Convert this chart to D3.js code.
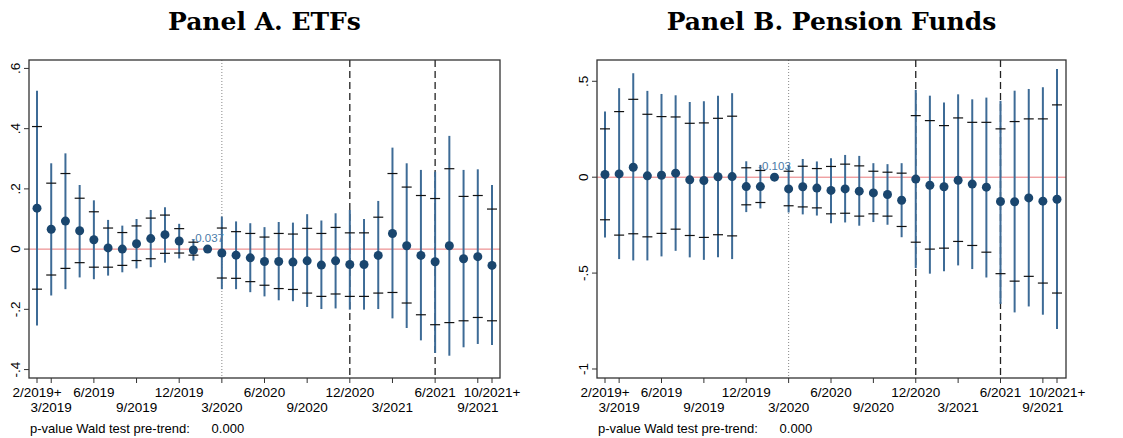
<!DOCTYPE html>
<html><head><meta charset="utf-8">
<script src="https://cdn.jsdelivr.net/npm/d3@7"></script>
<style>body{margin:0;background:#fff}</style>
</head><body>
<svg id="chart" width="1123" height="438"></svg>
<script>
// months 2/2019 .. 10/2021 (33 periods), 2/2020 is the reference period
const tickIdx = [0, 1, 4, 7, 10, 13, 16, 19, 22, 25, 28, 31, 32];
const tickLabels = ["2/2019+", "3/2019", "6/2019", "9/2019", "12/2019", "3/2020", "6/2020", "9/2020", "12/2020", "3/2021", "6/2021", "9/2021", "10/2021+"];

// Panel A. ETFs
const etfCoef = [0.136,0.066,0.093,0.061,0.031,0.004,0,0.018,0.035,0.048,0.027,-0.003,0,-0.013,-0.02,-0.029,-0.041,-0.041,-0.043,-0.039,-0.053,-0.039,-0.051,-0.051,-0.021,0.052,0.011,-0.021,-0.042,0.011,-0.032,-0.025,-0.054];
const etfHi90 = [0.407,0.219,0.251,0.169,0.124,0.07,0.055,0.077,0.103,0.113,0.068,0.023,null,0.07,0.058,0.052,0.04,0.052,0.05,0.069,0.052,0.072,0.054,0.054,0.106,0.251,0.206,0.178,0.168,0.267,0.175,0.178,0.133];
const etfLo90 = [-0.133,-0.086,-0.064,-0.045,-0.06,-0.06,-0.054,-0.038,-0.032,-0.014,-0.013,-0.02,null,-0.096,-0.097,-0.108,-0.12,-0.131,-0.134,-0.146,-0.157,-0.149,-0.157,-0.157,-0.146,-0.144,-0.179,-0.218,-0.251,-0.244,-0.238,-0.227,-0.238];
const etfHi95 = [0.526,0.285,0.318,0.213,0.162,0.097,0.078,0.1,0.13,0.139,0.084,0.031,null,0.108,0.092,0.086,0.073,0.09,0.088,0.116,0.095,0.119,0.13,0.1,0.16,0.337,0.285,0.263,0.257,0.376,0.263,0.265,0.213];
const etfLo95 = [-0.254,-0.154,-0.133,-0.094,-0.1,-0.088,-0.077,-0.064,-0.06,-0.045,-0.031,-0.038,null,-0.133,-0.133,-0.143,-0.157,-0.17,-0.173,-0.192,-0.199,-0.197,-0.201,-0.201,-0.199,-0.23,-0.262,-0.303,-0.345,-0.354,-0.326,-0.315,-0.318];

// Panel B. Pension Funds
const penCoef = [0.014,0.017,0.052,0.007,0.01,0.021,-0.014,-0.017,0.002,0.003,-0.049,-0.049,0,-0.061,-0.05,-0.057,-0.069,-0.061,-0.073,-0.082,-0.09,-0.12,-0.01,-0.042,-0.05,-0.016,-0.036,-0.052,-0.127,-0.128,-0.108,-0.125,-0.115];
const penHi90 = [0.252,0.342,0.406,0.328,0.316,0.314,0.281,0.283,0.307,0.318,0.049,0.035,null,0.031,0.057,0.045,0.056,0.068,0.059,0.031,0.026,0.021,0.321,0.295,0.269,0.309,0.286,0.286,0.252,0.29,0.304,0.304,0.377];
const penLo90 = [-0.222,-0.302,-0.295,-0.311,-0.293,-0.271,-0.304,-0.314,-0.3,-0.306,-0.144,-0.132,null,-0.149,-0.155,-0.16,-0.191,-0.188,-0.203,-0.191,-0.203,-0.257,-0.339,-0.375,-0.37,-0.335,-0.356,-0.391,-0.503,-0.542,-0.517,-0.552,-0.604];
const penHi95 = [0.342,0.464,0.542,0.45,0.434,0.427,0.392,0.396,0.424,0.438,0.083,0.064,null,0.064,0.095,0.082,0.099,0.116,0.111,0.073,0.068,0.073,0.455,0.425,0.39,0.432,0.406,0.415,0.398,0.451,0.46,0.469,0.564];
const penLo95 = [-0.314,-0.427,-0.434,-0.434,-0.413,-0.384,-0.418,-0.431,-0.417,-0.427,-0.182,-0.163,null,-0.184,-0.194,-0.2,-0.24,-0.236,-0.253,-0.234,-0.248,-0.313,-0.474,-0.503,-0.491,-0.46,-0.479,-0.523,-0.661,-0.705,-0.674,-0.717,-0.792];

const svg = d3.select("#chart").style("font-family", "Arial, 'Liberation Sans', sans-serif");

// Stata style: ".5", "-.5", "-1"
const fmtY = d => (d === 0 ? "0" : String(d).replace(/^(-?)0\./, "$1."));

function panel(opt) {
    const g = svg.append("g");
    const x = d3.scaleLinear().domain([0, 32]).range([opt.x0, opt.x1]);
    const y = d3.scaleLinear().domain(opt.yDomain).range([378, 60]);

    g.append("text").attr("x", (opt.left + opt.right) / 2).attr("y", 30)
        .attr("text-anchor", "middle").attr("font-family", "'DejaVu Serif', serif")
        .attr("font-weight", "bold").attr("font-size", 25).text(opt.title);

    // reference lines
    g.append("line").attr("x1", opt.left).attr("x2", opt.right).attr("y1", y(0)).attr("y2", y(0))
        .attr("stroke", "#e8787a").attr("stroke-width", 1);
    g.append("line").attr("x1", x(13)).attr("x2", x(13)).attr("y1", 60).attr("y2", 378)
        .attr("stroke", "#888").attr("stroke-dasharray", "1,2");
    [22, 28].forEach(i => g.append("line").attr("x1", x(i)).attr("x2", x(i)).attr("y1", 60).attr("y2", 378)
        .attr("stroke", "#222").attr("stroke-width", 1.3).attr("stroke-dasharray", "7,4"));

    const rows = opt.coef.map((c, i) => ({ i, c, h90: opt.hi90[i], l90: opt.lo90[i], h95: opt.hi95[i], l95: opt.lo95[i] }))
        .filter(d => d.h95 !== null);
    g.selectAll(".ci").data(rows).join("line")
        .attr("x1", d => x(d.i)).attr("x2", d => x(d.i)).attr("y1", d => y(d.h95)).attr("y2", d => y(d.l95))
        .attr("stroke", "#3d6b96").attr("stroke-width", 2);
    ["h90", "l90"].forEach(k => g.selectAll(".t" + k).data(rows).join("line")
        .attr("x1", d => x(d.i) - 5).attr("x2", d => x(d.i) + 5).attr("y1", d => y(d[k])).attr("y2", d => y(d[k]))
        .attr("stroke", "#111").attr("stroke-width", 1.2));
    g.selectAll("circle").data(opt.coef).join("circle")
        .attr("cx", (d, i) => x(i)).attr("cy", d => y(d)).attr("r", 4.5).attr("fill", "#1a466e");

    g.append("text").attr("x", x(12)).attr("y", y(0) - 7).attr("text-anchor", "middle")
        .attr("font-size", 11.5).attr("fill", "#4a7aa8").text(opt.refLabel);

    // frame
    g.append("rect").attr("x", opt.left).attr("y", 60).attr("width", opt.right - opt.left).attr("height", 318)
        .attr("fill", "none").attr("stroke", "#333").attr("stroke-width", 1.3);

    // y axis
    const ya = g.append("g").attr("transform", `translate(${opt.left},0)`);
    ya.selectAll("line").data(opt.yTicks).join("line")
        .attr("x1", -5).attr("x2", 0).attr("y1", d => y(d)).attr("y2", d => y(d)).attr("stroke", "#333");
    ya.selectAll("text").data(opt.yTicks).join("text")
        .attr("transform", d => `translate(-9,${y(d)}) rotate(-90)`).attr("text-anchor", "middle")
        .attr("font-size", 13.5).text(fmtY);

    // x axis
    const xa = g.append("g").attr("transform", "translate(0,378)");
    xa.selectAll("line").data(tickIdx).join("line")
        .attr("x1", d => x(d)).attr("x2", d => x(d)).attr("y1", 0).attr("y2", 5).attr("stroke", "#333");
    xa.selectAll("text").data(tickIdx).join("text")
        .attr("x", d => x(d)).attr("y", (d, j) => j % 2 === 0 ? 19 : 34).attr("text-anchor", "middle")
        .attr("font-size", 13.5).text((d, j) => tickLabels[j]);

    g.append("text").attr("x", opt.left + 1).attr("y", 433).attr("font-size", 13)
        .attr("xml:space", "preserve").text("p-value Wald test pre-trend:      0.000");
}

panel({ title: "Panel A. ETFs", left: 29, right: 500, x0: 37, x1: 492, yDomain: [-0.428, 0.628],
    yTicks: [-0.4, -0.2, 0, 0.2, 0.4, 0.6], coef: etfCoef, hi90: etfHi90, lo90: etfLo90, hi95: etfHi95, lo95: etfLo95, refLabel: "-0.037" });
panel({ title: "Panel B. Pension Funds", left: 597, right: 1066, x0: 605, x1: 1057, yDomain: [-1.047, 0.611],
    yTicks: [-1, -0.5, 0, 0.5], coef: penCoef, hi90: penHi90, lo90: penLo90, hi95: penHi95, lo95: penLo95, refLabel: "-0.103" });
</script>
</body></html>
